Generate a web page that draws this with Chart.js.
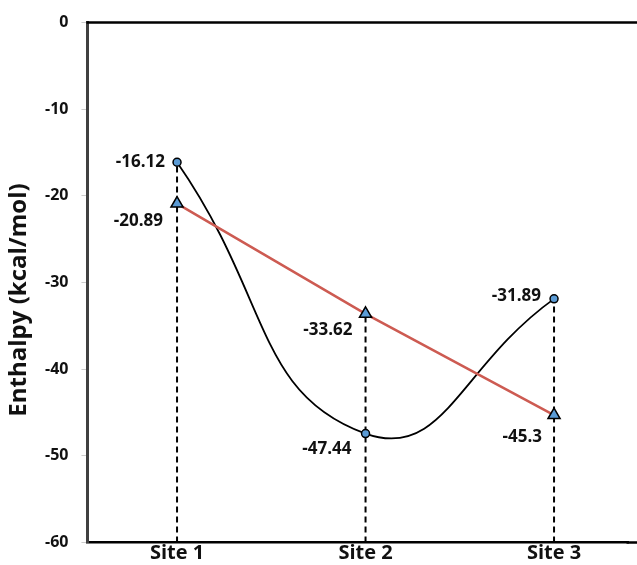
<!DOCTYPE html>
<html>
<head>
<meta charset="utf-8">
<script src="https://cdn.jsdelivr.net/npm/chart.js@4"></script>
<style>
  html, body { margin: 0; padding: 0; background: #fff; overflow: hidden; }
  canvas { display: block; }
</style>
</head>
<body>
<canvas id="myChart" width="637" height="565"></canvas>
<script>
var sites = ["Site 1", "Site 2", "Site 3"];
var sitePos = [1, 2, 3];
var circleValues = [-16.12, -47.44, -31.89];
var triangleValues = [-20.89, -33.62, -45.3];
var yTicks = [0, -10, -20, -30, -40, -50, -60];
var yTitle = "Enthalpy (kcal/mol)";

var FONT = "'Open Sans', 'DejaVu Sans', sans-serif";

function pts(vals) {
  return vals.map(function (v, i) { return { x: sitePos[i], y: v }; });
}

// dashed drop lines from the bottom to the upper marker of each site
var dropSets = sitePos.map(function (x, i) {
  return {
    label: "drop" + i,
    data: [{ x: x, y: -60 }, { x: x, y: Math.max(circleValues[i], triangleValues[i]) }],
    borderColor: "#000",
    borderWidth: 2,
    borderDash: [6, 4],
    pointRadius: 0,
    tension: 0,
    order: 3
  };
});

// label offsets (dx, dy) per point, text right-aligned left of the marker
var circleLabelOff = [[-12, 0], [-14, 16], [-13, -3]];
var triLabelOff = [[-14, 18], [-13, 16], [-12, 22]];

var labelPlugin = {
  id: "pointLabels",
  afterDatasetsDraw: function (chart) {
    var ctx = chart.ctx;
    ctx.save();
    ctx.font = "bold 17px " + FONT;
    ctx.fillStyle = "#111";
    ctx.textAlign = "right";
    ctx.textBaseline = "middle";
    var c = chart.getDatasetMeta(3).data;
    var t = chart.getDatasetMeta(4).data;
    c.forEach(function (p, i) {
      ctx.fillText(String(circleValues[i]), p.x + circleLabelOff[i][0], p.y + circleLabelOff[i][1]);
    });
    t.forEach(function (p, i) {
      ctx.fillText(String(triangleValues[i]), p.x + triLabelOff[i][0], p.y + triLabelOff[i][1]);
    });
    ctx.restore();
  }
};

// top frame line, bottom line run-out to the edge, y title (a bit below axis centre)
var frame = {
  id: "frame",
  afterDraw: function (chart) {
    var a = chart.chartArea, ctx = chart.ctx;
    ctx.save();
    ctx.strokeStyle = "#000";
    ctx.lineWidth = 2.5;
    ctx.beginPath();
    ctx.moveTo(a.left - 1, a.top);
    ctx.lineTo(chart.width, a.top);
    ctx.moveTo(a.right - 2, a.bottom);
    ctx.lineTo(chart.width, a.bottom);
    ctx.stroke();

    ctx.translate(19, 300);
    ctx.rotate(-Math.PI / 2);
    ctx.font = "bold 24px " + FONT;
    ctx.fillStyle = "#111";
    ctx.textAlign = "center";
    ctx.textBaseline = "middle";
    ctx.fillText(yTitle, 0, 0);
    ctx.restore();
  }
};

var data = {
  datasets: dropSets.concat([
    {
      label: "Circles",
      data: pts(circleValues),
      borderColor: "#000",
      borderWidth: 1.8,
      tension: 0.5,
      pointStyle: "circle",
      pointRadius: 4,
      pointBackgroundColor: "#5b9bd5",
      pointBorderColor: "#000",
      pointBorderWidth: 1.5,
      order: 2
    },
    {
      label: "Triangles",
      data: pts(triangleValues),
      borderColor: "#cd5b52",
      borderWidth: 2.5,
      tension: 0,
      pointStyle: "triangle",
      pointRadius: 7,
      pointBackgroundColor: "#5b9bd5",
      pointBorderColor: "#000",
      pointBorderWidth: 1.5,
      order: 1
    }
  ])
};

var options = {
  responsive: false,
  animation: false,
  layout: { padding: { top: 21, right: 0, bottom: 0, left: 32 } },
  plugins: {
    legend: { display: false },
    tooltip: { enabled: false }
  },
  scales: {
    x: {
      type: "linear",
      min: 0.5247,
      max: 3.395,
      afterBuildTicks: function (axis) {
        axis.ticks = sitePos.map(function (v) { return { value: v }; });
      },
      grid: { display: false, drawTicks: false },
      border: { display: true, color: "#000", width: 2.5 },
      ticks: {
        padding: 1,
        autoSkip: false,
        maxRotation: 0,
        color: "#111",
        font: { family: FONT, size: 20, weight: "bold", lineHeight: 1 },
        callback: function (value) {
          var i = sitePos.indexOf(value);
          return i >= 0 ? sites[i] : "";
        }
      }
    },
    y: {
      min: -60,
      max: 0,
      afterBuildTicks: function (axis) {
        axis.ticks = yTicks.map(function (v) { return { value: v }; });
      },
      grid: { drawOnChartArea: false, tickLength: 6, color: "#ccc" },
      border: { display: true, color: "#404040", width: 3 },
      ticks: {
        padding: 13,
        color: "#111",
        font: { family: FONT, size: 16, weight: "bold" }
      }
    }
  }
};

var ctx = document.getElementById("myChart").getContext("2d");
var myChart = new Chart(ctx, {
  type: "line",
  data: data,
  options: options,
  plugins: [labelPlugin, frame]
});
</script>
</body>
</html>
